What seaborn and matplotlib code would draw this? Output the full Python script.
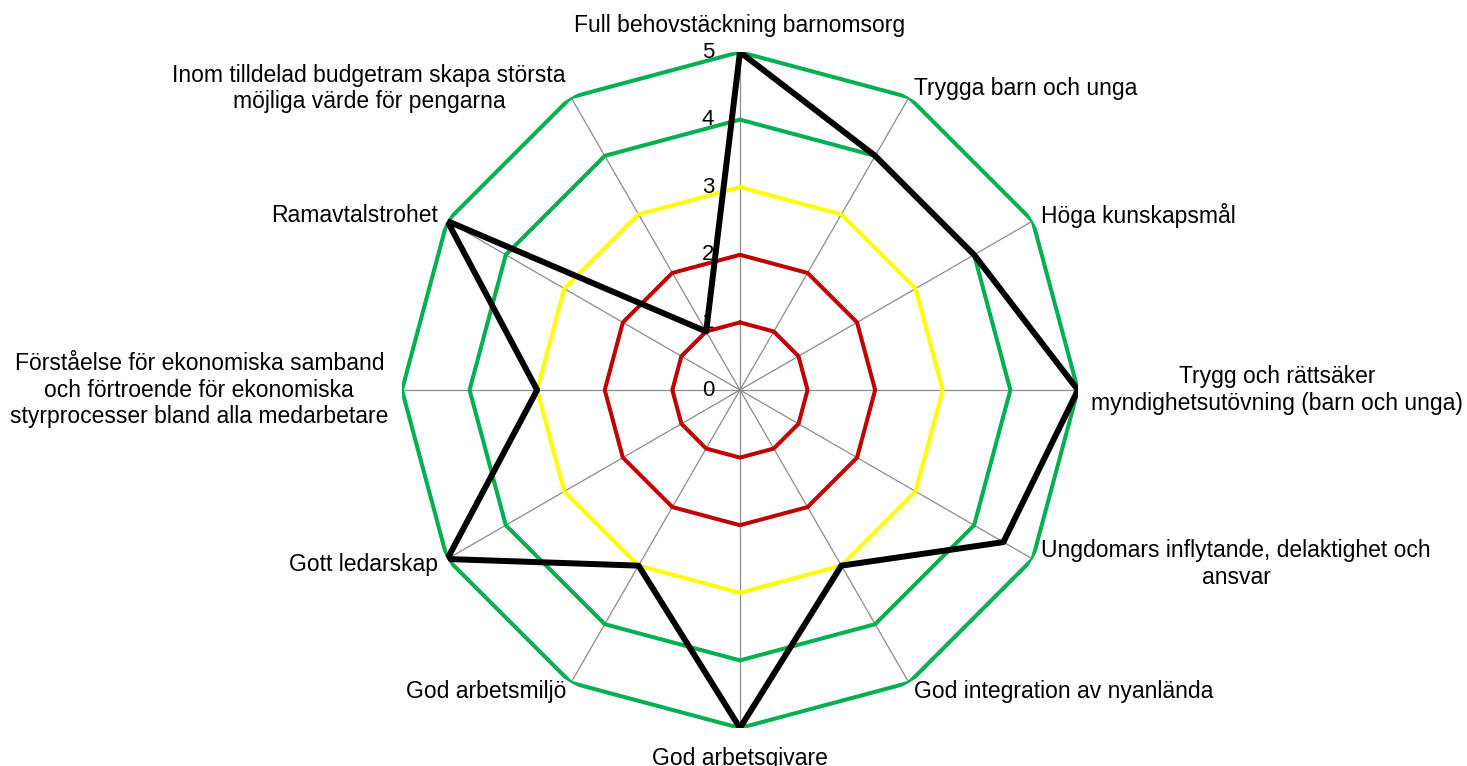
import matplotlib

matplotlib.use("Agg")
import matplotlib.pyplot as plt
import matplotlib.transforms as mtransforms
import numpy as np
import pandas as pd
import seaborn as sns

categories = [
    "Full behovstäckning barnomsorg",
    "Trygga barn och unga",
    "Höga kunskapsmål",
    "Trygg och rättsäker\nmyndighetsutövning (barn och unga)",
    "Ungdomars inflytande, delaktighet och\nansvar",
    "God integration av nyanlända",
    "God arbetsgivare",
    "God arbetsmiljö",
    "Gott ledarskap",
    "Förståelse för ekonomiska samband\noch förtroende för ekonomiska\nstyrprocesser bland alla medarbetare",
    "Ramavtalstrohet",
    "Inom tilldelad budgetram skapa största\nmöjliga värde för pengarna",
]
scores = [5, 4, 4, 5, 4.5, 3, 5, 3, 5, 3, 5, 1]
ring_levels = [1, 2, 3, 4, 5]
ring_colors = ["#C00000", "#C00000", "#FFFF00", "#00B050", "#00B050"]
tick_values = [0, 1, 2, 3, 4, 5]


def main() -> None:
    sns.set_style("white")
    plt.rcParams["font.family"] = ["Liberation Sans", "DejaVu Sans"]
    plt.rcParams["text.color"] = "black"

    n = len(categories)
    theta = np.arange(n) * 2 * np.pi / n
    # close the polygons with 2*pi so seaborn doesn't merge duplicate x
    theta_closed = np.append(theta, 2 * np.pi)

    fig = plt.figure(figsize=(14.67, 7.66), dpi=100)
    ax = fig.add_axes([0.2740, 0.0496, 0.4608, 0.8825], projection="polar")
    ax.set_theta_zero_location("N")
    ax.set_theta_direction(-1)
    ax.set_ylim(0, 5)
    ax.set_xticks(theta)
    ax.set_xticklabels([])
    ax.set_yticks([])
    ax.xaxis.grid(True, color="#8c8c8c", linewidth=0.9)
    ax.yaxis.grid(False)
    ax.spines["polar"].set_visible(False)
    ax.set_facecolor("none")

    for level, color in zip(ring_levels, ring_colors):
        ring = pd.DataFrame({"theta": theta_closed, "r": [level] * (n + 1)})
        sns.lineplot(data=ring, x="theta", y="r", sort=False, estimator=None,
                     ax=ax, color=color, linewidth=2.9, zorder=3)

    data = pd.DataFrame({"theta": theta_closed, "r": scores + [scores[0]]})
    sns.lineplot(data=data, x="theta", y="r", sort=False, estimator=None,
                 ax=ax, color="black", linewidth=4.3, zorder=4)
    ax.set_xlabel("")
    ax.set_ylabel("")
    ax.set_xlim(0, 2 * np.pi)

    # scale numbers left of the top spoke
    offset = mtransforms.offset_copy(ax.transData, fig=fig, x=-32, y=0, units="dots")
    for v in tick_values:
        ax.text(0, v, str(v), transform=offset, ha="center", va="center",
                fontsize=16, zorder=2)

    # category labels
    layout = [
        (5.22, "center", "bottom"),
        (5.15, "left", "center"),
        (5.15, "left", "center"),
        (5.2, "left", "center"),
        (5.15, "left", "center"),
        (5.15, "left", "center"),
        (5.28, "center", "top"),
        (5.15, "right", "center"),
        (5.15, "right", "center"),
        (5.2, "right", "center"),
        (5.15, "right", "center"),
        (5.15, "right", "center"),
    ]
    for t, label, (r, ha, va) in zip(theta, categories, layout):
        ax.text(t, r, label, ha=ha, va=va, multialignment="center",
                fontsize=16.5, linespacing=1.2, clip_on=False)

    fig.savefig("out.png", dpi=100)
    plt.close(fig)


if __name__ == "__main__":
    main()
